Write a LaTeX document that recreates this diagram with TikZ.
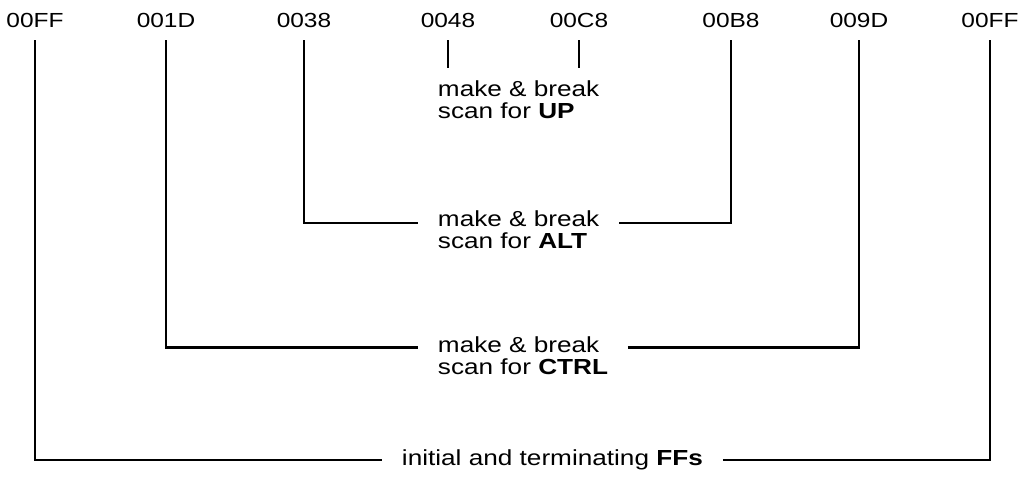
\documentclass[tikz,border=0pt]{standalone}
\usepackage{fontspec}
\setmainfont{Liberation Sans}[FakeStretch=1.2]
\usepackage{tikz}
\usetikzlibrary{positioning,calc}

\begin{document}
\begin{tikzpicture}[x=0.025cm,y=-0.025cm,
  code/.style={anchor=base,inner xsep=0pt,inner ysep=8.5pt,font=\fontsize{14.5}{15.5}\selectfont},
  scan/.style={anchor=west,align=left,inner xsep=14pt,font=\fontsize{15.5}{15.8}\selectfont},
  wire/.style={line width=1.6pt}]
\useasboundingbox (0,0) rectangle (1032,485);
% scan codes along the top
\node[code] (ffl) at (35,28) {00FF};
\node[code] (c1d) at (166,28) {001D};
\node[code] (c38) at (304,28) {0038};
\node[code] (c48) at (448,28) {0048};
\node[code] (cc8) at (579,28) {00C8};
\node[code] (cb8) at (731,28) {00B8};
\node[code] (c9d) at (859,28) {009D};
\node[code] (ffr) at (990,28) {00FF};
% what each pair is
\node[scan] (up) at (418,100) {make \& break\\scan for \textbf{UP}};
\node[scan] (alt) at (418,230) {make \& break\\scan for \textbf{ALT}};
\node[scan] (ctrl) at (418,356) {make \& break\\scan for \textbf{CTRL}};
\node[scan] (ff) at (382,460) {initial and terminating \textbf{FFs}};
% the brackets
\draw[wire] (c48.south) -- +(0,28);
\draw[wire] (cc8.south) -- +(0,28);
\draw[wire] (c38.south) |- ([yshift=5pt]alt.west);
\draw[wire] ([yshift=5pt]alt.east) -| (cb8.south);
\draw[wire] (c1d.south) |- ([yshift=6pt]ctrl.west);
\draw[wire] ([yshift=6pt]ctrl.east) -| (c9d.south);
\draw[wire] (ffl.south) |- (ff.west);
\draw[wire] (ff.east) -| (ffr.south);
\end{tikzpicture}
\end{document}
